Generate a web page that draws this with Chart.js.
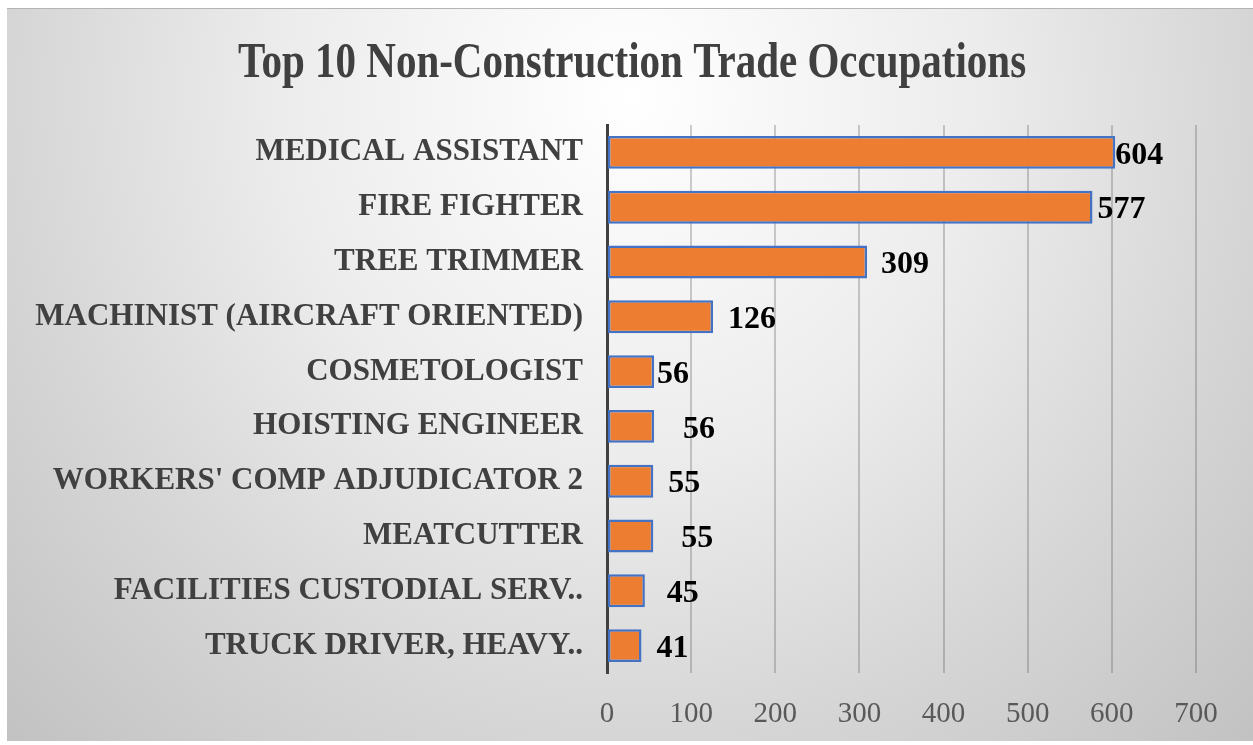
<!DOCTYPE html>
<html>
<head>
<meta charset="utf-8">
<script src="https://cdn.jsdelivr.net/npm/chart.js@4.4.0/dist/chart.umd.min.js"></script>
<style>
  html, body { margin: 0; padding: 0; background: #ffffff; }
  #wrap {
    position: absolute; left: 7px; top: 8px; width: 1246px; height: 733px;
    border-top: 1px solid #b4b4b4;
    box-sizing: border-box;
    background: radial-gradient(ellipse farthest-corner at 50% 12%, #ffffff 0%, #ececec 40%, #d6d6d6 70%, #c2c2c2 100%);
  }
</style>
</head>
<body>
<div id="wrap"><canvas id="myChart" width="1246" height="732"></canvas></div>
<script>
var chartTitle = "Top 10 Non-Construction Trade Occupations";
var occupations = [
  "MEDICAL ASSISTANT",
  "FIRE FIGHTER",
  "TREE TRIMMER",
  "MACHINIST (AIRCRAFT ORIENTED)",
  "COSMETOLOGIST",
  "HOISTING ENGINEER",
  "WORKERS' COMP ADJUDICATOR 2",
  "MEATCUTTER",
  "FACILITIES CUSTODIAL SERV..",
  "TRUCK DRIVER, HEAVY.."
];
var counts = [604, 577, 309, 126, 56, 56, 55, 55, 45, 41];
var xTicks = [0, 100, 200, 300, 400, 500, 600, 700];
// how far each value label sits from its bar end (px), as placed in the original
var labelNudge = [0, 5, 14, 15, 3, 29, 15, 28, 22, 15];

const SERIF = '"Liberation Serif", "Times New Roman", serif';

var titlePlugin = {
  id: 'squeezedTitle',
  afterDraw: function(chart) {
    var ctx = chart.ctx;
    ctx.save();
    ctx.font = 'bold 50px ' + SERIF;
    ctx.fillStyle = '#404040';
    ctx.textAlign = 'center';
    ctx.textBaseline = 'alphabetic';
    ctx.translate(chart.width / 2 + 2, 68);
    ctx.scale(0.82, 1);
    ctx.fillText(chartTitle, 0, 0);
    ctx.restore();
  }
};

var valueLabels = {
  id: 'valueLabels',
  afterDatasetsDraw: function(chart) {
    var ctx = chart.ctx;
    var meta = chart.getDatasetMeta(0);
    ctx.save();
    ctx.font = 'bold 32px ' + SERIF;
    ctx.fillStyle = '#000000';
    ctx.textAlign = 'left';
    ctx.textBaseline = 'middle';
    meta.data.forEach(function(bar, i) {
      ctx.fillText(String(counts[i]), bar.x + labelNudge[i], bar.y + 3);
    });
    ctx.restore();
  }
};

var ctx = document.getElementById('myChart').getContext('2d');
window.myBarChart = new Chart(ctx, {
  type: 'bar',
  data: {
    labels: occupations,
    datasets: [{
      data: counts,
      backgroundColor: '#ED7D31',
      borderColor: '#4472C4',
      borderWidth: 2.5,
      borderSkipped: false,
      categoryPercentage: 1,
      barPercentage: 0.6
    }]
  },
  options: {
    indexAxis: 'y',
    responsive: false,
    animation: false,
    layout: { padding: { top: 116, right: 57, bottom: 0, left: 0 } },
    plugins: {
      legend: { display: false },
      title: { display: false },
      tooltip: { enabled: false }
    },
    scales: {
      x: {
        min: 0,
        max: 700,
        afterBuildTicks: function(scale) {
          scale.ticks = xTicks.map(function(v) { return { value: v }; });
        },
        afterFit: function(scale) { scale.height = 68; },
        grid: { color: 'rgba(90,90,90,0.3)', lineWidth: 2, drawTicks: false },
        border: { display: false },
        ticks: {
          padding: 24,
          color: '#595959',
          font: { family: SERIF, size: 29 }
        }
      },
      y: {
        afterFit: function(scale) { scale.width = 600; },
        grid: { display: false, drawTicks: false },
        border: { display: true, color: '#404040', width: 3 },
        ticks: {
          padding: 24,
          color: '#404040',
          font: { family: SERIF, size: 31, weight: 'bold' }
        }
      }
    }
  },
  plugins: [titlePlugin, valueLabels]
});
</script>
</body>
</html>
